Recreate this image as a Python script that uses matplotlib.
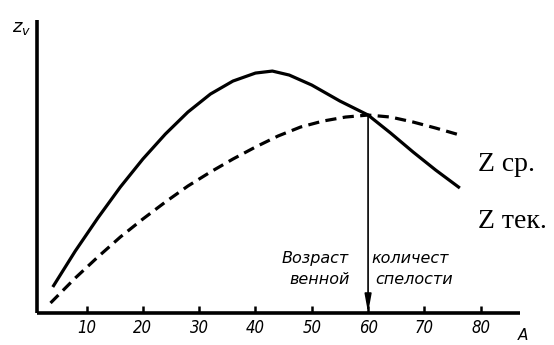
import matplotlib
matplotlib.use("Agg")
import matplotlib.pyplot as plt

# Data (age, arbitrary Z units)
solid_x = [4, 8, 12, 16, 20, 24, 28, 32, 36, 40, 43, 46, 50, 55, 60, 64, 68, 72, 76.3]
solid_y = [26, 62, 95, 126, 154, 179, 201, 219, 232, 240, 242, 238, 228, 212, 198, 180, 161, 143, 125]
dashed_x = [3.6, 8, 12, 16, 20, 24, 28, 32, 36, 40, 44, 48, 52, 56, 60, 64, 68, 72, 76.3]
dashed_y = [10, 35, 56, 76, 94, 111, 127, 141, 154, 166, 177, 186, 192, 196, 198, 196, 191, 185, 178]
x_ticks = [10, 20, 30, 40, 50, 60, 70, 80]
x_ticklabels = ["10", "20", "30", "40", "50", "60", "70", "80"]
maturity_age = 60.0
maturity_z = 198

fig = plt.figure(figsize=(5.54, 3.45), dpi=100)
ax = fig.add_axes([0.0668, 0.0928, 0.872, 0.849])
ax.set_xlim(1.2, 87.0)
ax.set_ylim(0, 293)

ax.plot(solid_x, solid_y, color="black", lw=2.3, solid_capstyle="butt",
        solid_joinstyle="round")
ax.plot(dashed_x, dashed_y, color="black", lw=2.3, dashes=(3.5, 2.0))

ax.annotate("", xy=(maturity_age, 0), xytext=(maturity_age, maturity_z),
            arrowprops=dict(arrowstyle="-|>,head_length=1.1,head_width=0.2",
                            color="black", lw=1.2, shrinkA=0, shrinkB=0))

for s in ["top", "right"]:
    ax.spines[s].set_visible(False)
for s in ["left", "bottom"]:
    ax.spines[s].set_linewidth(2.6)
    ax.spines[s].set_capstyle("butt")

ax.set_yticks([])
ax.set_xticks(x_ticks)
ax.set_xticklabels(x_ticklabels, fontsize=12, style="italic", fontstretch="condensed")
ax.tick_params(axis="x", direction="in", length=5, width=1.8, pad=4)

txt = dict(fontsize=11.5, style="italic", color="black", va="center")
ax.text(56.6, 55, "Возраст", ha="right", **txt)
ax.text(56.8, 33, "венной", ha="right", **txt)
ax.text(60.6, 55, "количест", ha="left", **txt)
ax.text(61.2, 33, "спелости", ha="left", **txt)

fig.text(12 / 554, 1 - 28 / 345, r"$z_v$", fontsize=13, ha="left", va="center")
fig.text(518 / 554, 1 - 336 / 345, "А", fontsize=11, style="italic", ha="left", va="center")

fig.text(478 / 554, 1 - 164 / 345, "Z ср.", fontsize=20, family="Liberation Serif",
         ha="left", va="center")
fig.text(478 / 554, 1 - 222 / 345, "Z тек.", fontsize=20, family="Liberation Serif",
         ha="left", va="center")

fig.savefig("out.png", dpi=100)
